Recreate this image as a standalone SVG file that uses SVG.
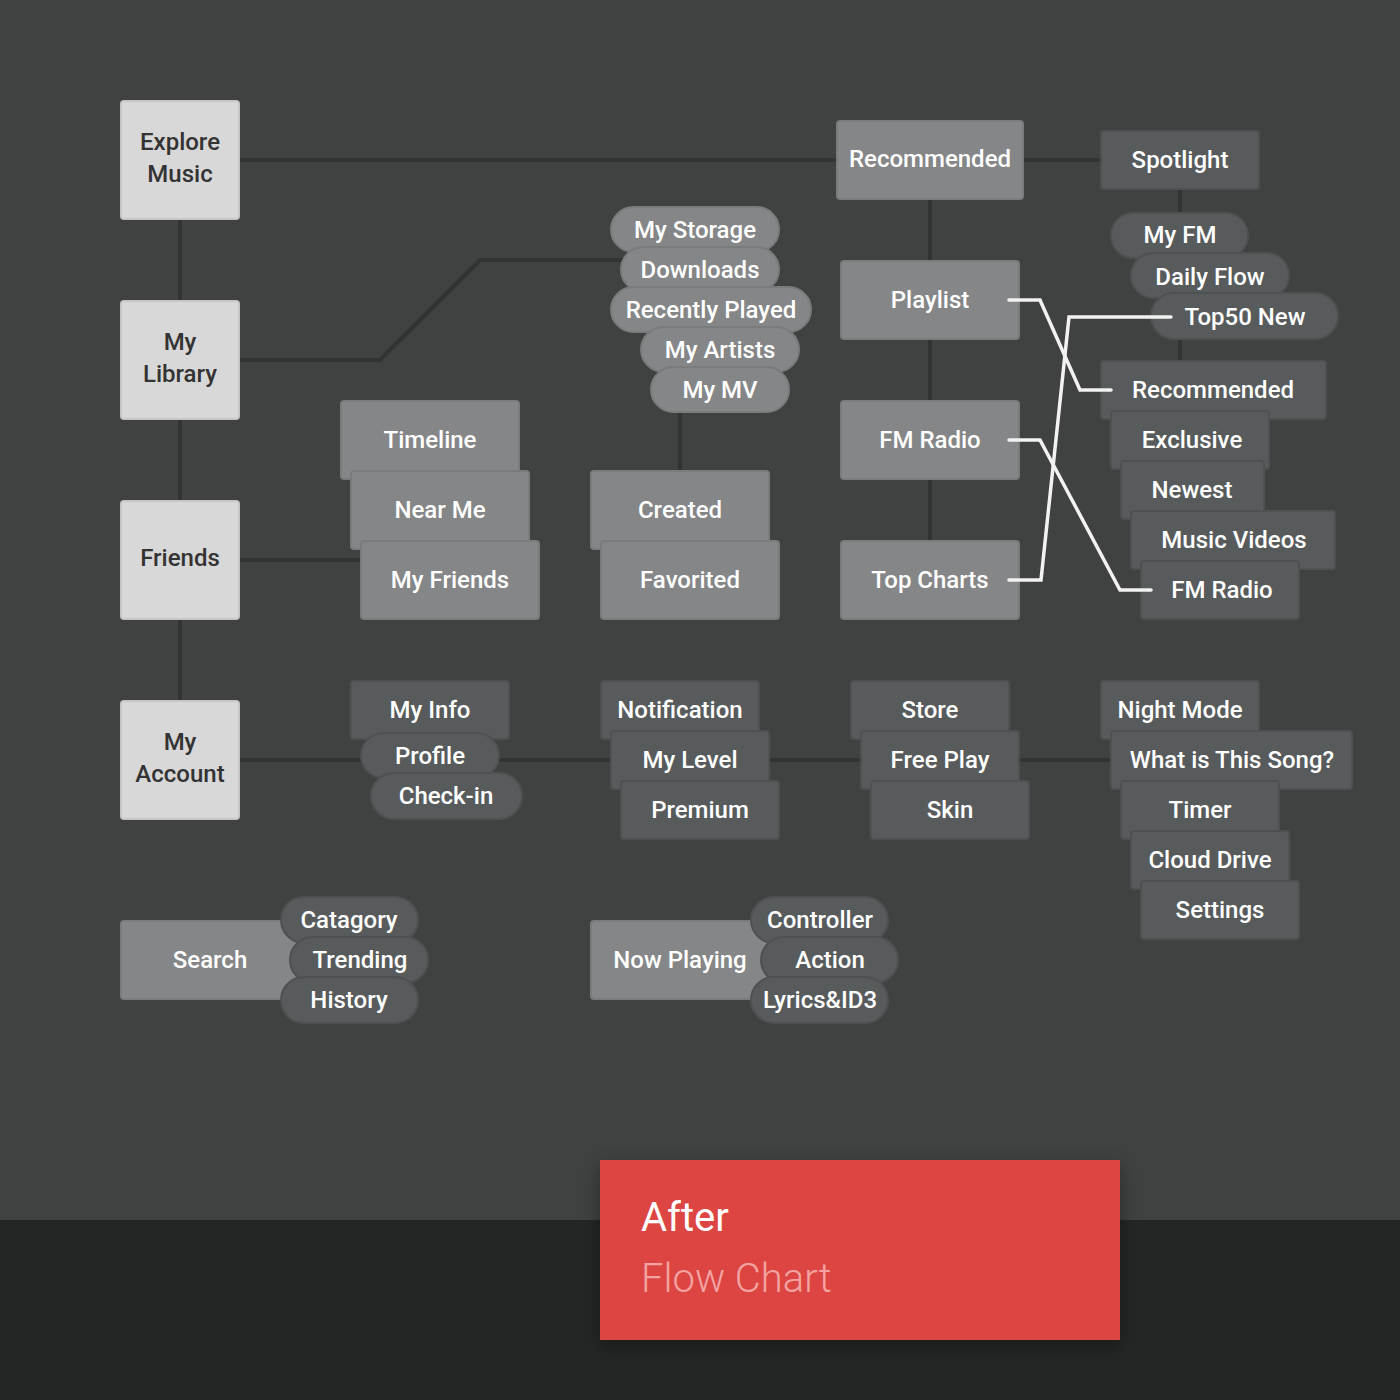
<svg xmlns="http://www.w3.org/2000/svg" width="1400" height="1400" viewBox="0 0 1400 1400">
<defs>
<style>
.bg{fill:#404141}
.lk{fill:none;stroke:#323333;stroke-width:4}
.wl{fill:none;stroke:#f2f2f2;stroke-width:3.5;stroke-linecap:round;stroke-linejoin:miter}
.main rect{fill:#d8d8d8;stroke:#c6c6c6;stroke-width:2}
.main text{fill:#333;font-family:Roboto,"Liberation Sans",sans-serif;font-size:24px;font-weight:500;text-anchor:middle}
.mid rect{fill:#858687;stroke:#7a7b7c;stroke-width:2}
.dk rect{fill:#585b5c;stroke:#4e5152;stroke-width:2}
.mid text,.dk text{fill:#fff;font-family:Roboto,"Liberation Sans",sans-serif;font-size:24px;font-weight:500;text-anchor:middle}
</style>
<filter id="sh" x="-10%" y="-20%" width="120%" height="150%">
<feDropShadow dx="0" dy="6" stdDeviation="10" flood-color="#000" flood-opacity="0.35"/>
</filter>
</defs>
<rect x="0" y="0" width="1400" height="1220" class="bg"/>
<rect x="0" y="1220" width="1400" height="180" fill="#242525"/>

<g id="connectors">
<path class="lk" d="M180 100V700"/>
<path class="lk" d="M240 160H1110"/>
<path class="lk" d="M240 360H380L480 260H625"/>
<path class="lk" d="M240 560H365"/>
<path class="lk" d="M240 760H1115"/>
<path class="lk" d="M680 405V475"/>
<path class="lk" d="M930 195V545"/>
<path class="lk" d="M1180 185V365"/>
</g>

<g id="explore-music" class="main"><rect x="121" y="101" width="118" height="118" rx="3"/><text x="180" y="150">Explore</text><text x="180" y="182">Music</text></g>
<g id="my-library" class="main"><rect x="121" y="301" width="118" height="118" rx="3"/><text x="180" y="350">My</text><text x="180" y="382">Library</text></g>
<g id="friends" class="main"><rect x="121" y="501" width="118" height="118" rx="3"/><text x="180" y="566">Friends</text></g>
<g id="my-account" class="main"><rect x="121" y="701" width="118" height="118" rx="3"/><text x="180" y="750">My</text><text x="180" y="782">Account</text></g>

<g id="recommended" class="mid"><rect x="837" y="121" width="186" height="78" rx="3"/><text x="930" y="167">Recommended</text></g>
<g id="playlist" class="mid"><rect x="841" y="261" width="178" height="78" rx="3"/><text x="930" y="308">Playlist</text></g>
<g id="fm-radio" class="mid"><rect x="841" y="401" width="178" height="78" rx="3"/><text x="930" y="448">FM Radio</text></g>
<g id="top-charts" class="mid"><rect x="841" y="541" width="178" height="78" rx="3"/><text x="930" y="588">Top Charts</text></g>

<g id="my-storage" class="mid"><rect x="611" y="207" width="168" height="45" rx="22.5"/><text x="695" y="238">My Storage</text></g>
<g id="downloads" class="mid"><rect x="621" y="247" width="158" height="45" rx="22.5"/><text x="700" y="278">Downloads</text></g>
<g id="recently-played" class="mid"><rect x="611" y="287" width="200" height="45" rx="22.5"/><text x="711" y="318">Recently Played</text></g>
<g id="my-artists" class="mid"><rect x="641" y="327" width="158" height="45" rx="22.5"/><text x="720" y="358">My Artists</text></g>
<g id="my-mv" class="mid"><rect x="651" y="367" width="138" height="45" rx="22.5"/><text x="720" y="398">My MV</text></g>

<g id="timeline" class="mid"><rect x="341" y="401" width="178" height="78" rx="3"/><text x="430" y="448">Timeline</text></g>
<g id="near-me" class="mid"><rect x="351" y="471" width="178" height="78" rx="3"/><text x="440" y="518">Near Me</text></g>
<g id="my-friends" class="mid"><rect x="361" y="541" width="178" height="78" rx="3"/><text x="450" y="588">My Friends</text></g>
<g id="created" class="mid"><rect x="591" y="471" width="178" height="78" rx="3"/><text x="680" y="518">Created</text></g>
<g id="favorited" class="mid"><rect x="601" y="541" width="178" height="78" rx="3"/><text x="690" y="588">Favorited</text></g>

<g id="spotlight" class="dk"><rect x="1101" y="131" width="158" height="58" rx="3"/><text x="1180" y="168">Spotlight</text></g>
<g id="my-fm" class="dk"><rect x="1111" y="213" width="137" height="45" rx="22.5"/><text x="1180" y="243">My FM</text></g>
<g id="daily-flow" class="dk"><rect x="1131" y="253" width="158" height="45" rx="22.5"/><text x="1210" y="285">Daily Flow</text></g>
<g id="top50-new" class="dk"><rect x="1151" y="293" width="187" height="46" rx="23"/><text x="1245" y="325">Top50 New</text></g>

<g id="recommended-2" class="dk"><rect x="1101" y="361" width="225" height="58" rx="3"/><text x="1213" y="398">Recommended</text></g>
<g id="exclusive" class="dk"><rect x="1111" y="411" width="158" height="58" rx="3"/><text x="1192" y="448">Exclusive</text></g>
<g id="newest" class="dk"><rect x="1121" y="461" width="143" height="58" rx="3"/><text x="1192" y="498">Newest</text></g>
<g id="music-videos" class="dk"><rect x="1131" y="511" width="204" height="58" rx="3"/><text x="1234" y="548">Music Videos</text></g>
<g id="fm-radio-2" class="dk"><rect x="1141" y="561" width="158" height="58" rx="3"/><text x="1222" y="598">FM Radio</text></g>

<g id="my-info" class="dk"><rect x="351" y="681" width="158" height="58" rx="3"/><text x="430" y="718">My Info</text></g>
<g id="profile" class="dk"><rect x="361" y="733" width="138" height="45" rx="22.5"/><text x="430" y="764">Profile</text></g>
<g id="check-in" class="dk"><rect x="371" y="773" width="151" height="46" rx="23"/><text x="446" y="804">Check-in</text></g>
<g id="notification" class="dk"><rect x="601" y="681" width="158" height="58" rx="3"/><text x="680" y="718">Notification</text></g>
<g id="my-level" class="dk"><rect x="611" y="731" width="158" height="58" rx="3"/><text x="690" y="768">My Level</text></g>
<g id="premium" class="dk"><rect x="621" y="781" width="158" height="58" rx="3"/><text x="700" y="818">Premium</text></g>
<g id="store" class="dk"><rect x="851" y="681" width="158" height="58" rx="3"/><text x="930" y="718">Store</text></g>
<g id="free-play" class="dk"><rect x="861" y="731" width="158" height="58" rx="3"/><text x="940" y="768">Free Play</text></g>
<g id="skin" class="dk"><rect x="871" y="781" width="158" height="58" rx="3"/><text x="950" y="818">Skin</text></g>

<g id="night-mode" class="dk"><rect x="1101" y="681" width="158" height="58" rx="3"/><text x="1180" y="718">Night Mode</text></g>
<g id="what-is-this-song" class="dk"><rect x="1111" y="731" width="241" height="58" rx="3"/><text x="1232" y="768">What is This Song?</text></g>
<g id="timer" class="dk"><rect x="1121" y="781" width="158" height="58" rx="3"/><text x="1200" y="818">Timer</text></g>
<g id="cloud-drive" class="dk"><rect x="1131" y="831" width="158" height="58" rx="3"/><text x="1210" y="868">Cloud Drive</text></g>
<g id="settings" class="dk"><rect x="1141" y="881" width="158" height="58" rx="3"/><text x="1220" y="918">Settings</text></g>

<g id="search" class="mid"><rect x="121" y="921" width="178" height="78" rx="3"/><text x="210" y="968">Search</text></g>
<g id="catagory" class="dk"><rect x="281" y="897" width="137" height="46" rx="23"/><text x="349" y="928">Catagory</text></g>
<g id="trending" class="dk"><rect x="290" y="937" width="138" height="46" rx="23"/><text x="360" y="968">Trending</text></g>
<g id="history" class="dk"><rect x="281" y="977" width="137" height="46" rx="23"/><text x="349" y="1008">History</text></g>

<g id="now-playing" class="mid"><rect x="591" y="921" width="178" height="78" rx="3"/><text x="680" y="968">Now Playing</text></g>
<g id="controller" class="dk"><rect x="751" y="897" width="137" height="46" rx="23"/><text x="820" y="928">Controller</text></g>
<g id="action" class="dk"><rect x="761" y="937" width="137" height="46" rx="23"/><text x="830" y="968">Action</text></g>
<g id="lyrics-id3" class="dk"><rect x="751" y="977" width="137" height="46" rx="23"/><text x="820" y="1008">Lyrics&amp;ID3</text></g>

<g id="white-connectors">
<path class="wl" d="M1009 300H1040L1080 390H1111"/>
<path class="wl" d="M1009 440H1040L1120 590H1151"/>
<path class="wl" d="M1009 580H1041L1069 317H1171"/>
</g>

<g id="title-card">
<rect x="600" y="1160" width="520" height="180" fill="#dc4543" filter="url(#sh)"/>
<text x="641" y="1231" fill="#ffffff" font-family="Roboto,'Liberation Sans',sans-serif" font-size="40">After</text>
<text x="641" y="1292" fill="#f3a3a1" font-family="Roboto,'Liberation Sans',sans-serif" font-size="40" font-weight="300">Flow Chart</text>
</g>
</svg>
